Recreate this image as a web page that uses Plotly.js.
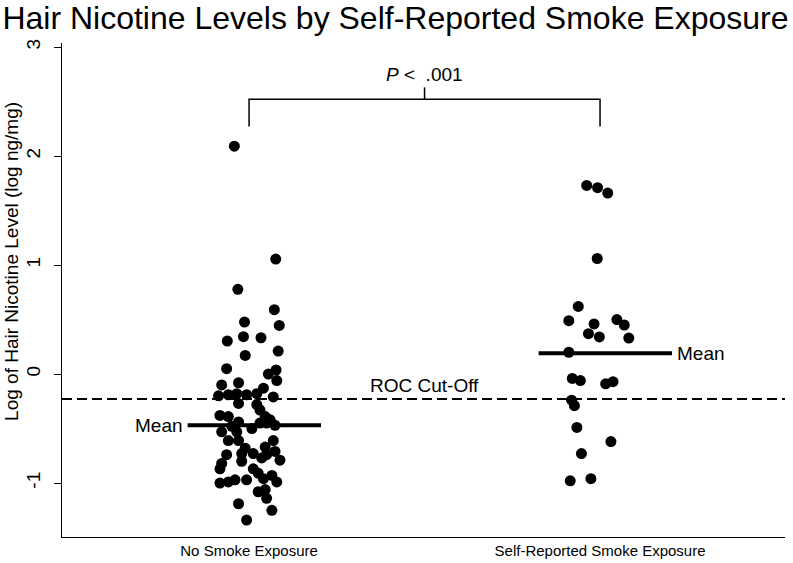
<!DOCTYPE html>
<html>
<head>
<meta charset="utf-8">
<script src="https://cdn.plot.ly/plotly-3.0.1.min.js"></script>
<style>html,body{margin:0;padding:0;background:#fff;}#chart{width:793px;height:563px;}</style>
</head>
<body>
<div id="chart"></div>
<script>
// ---- Data ----
const categories = ["No Smoke Exposure", "Self-Reported Smoke Exposure"];
const categoryPos = [1, 2];

// Log hair nicotine, no smoke exposure group
const noSmokeY = [2.09, 1.055, 0.777, 0.59, 0.477, 0.446, 0.303, 0.343, 0.333, 0.211, 0.171, 0.049, 0.037,
  0, -0.06, -0.10, -0.08, -0.13, -0.20, -0.19, -0.18, -0.19, -0.18, -0.21, -0.27, -0.28, -0.33, -0.39, -0.38, -0.39, -0.42,
  -0.53, -0.48, -0.44, -0.53, -0.50, -0.45, -0.45, -0.47, -0.61, -0.61, -0.68, -0.61, -0.67,
  -0.74, -0.73, -0.73, -0.74, -0.71, -0.82, -0.87, -0.80, -0.77, -0.79, -0.87, -0.91,
  -1.00, -0.99, -0.97, -0.97, -0.96, -0.93, -0.99, -1.08, -1.06, -1.14, -1.19, -1.25, -1.34];
const noSmokeJitter = [-0.042, 0.076, -0.032, 0.072, -0.013, 0.086, -0.062, -0.016, 0.034, 0.083, -0.011, -0.064, 0.077,
  0.055, 0.079, -0.078, -0.030, 0.041, -0.087, -0.059, -0.035, -0.007, 0.022, 0.069, -0.030, 0.022, 0.031, 0.046, -0.083, -0.059, 0.060,
  -0.078, -0.049, -0.030, -0.035, 0.008, 0.031, 0.050, 0.074, -0.059, -0.030, -0.011, 0.069, 0.046,
  -0.064, -0.021, 0.012, 0.050, 0.074, -0.078, -0.083, -0.021, 0.036, 0.088, 0.012, 0.026,
  -0.083, -0.059, -0.040, -0.007, 0.041, 0.065, 0.079, 0.026, 0.046, 0.050, -0.030, 0.065, -0.007];

// Self-reported smoke exposure group
const smokeY = [1.73, 1.71, 1.66, 1.06, 0.62, 0.49, 0.46, 0.50, 0.45, 0.37, 0.34, 0.33, 0.20,
  -0.04, -0.06, -0.09, -0.07, -0.24, -0.29, -0.49, -0.62, -0.73, -0.98, -0.96];
const smokeJitter = [-0.038, -0.007, 0.022, -0.008, -0.062, -0.089, -0.017, 0.048, 0.069, -0.033, -0.002, 0.082, -0.089,
  -0.079, -0.056, 0.016, 0.037, -0.081, -0.073, -0.066, 0.031, -0.053, -0.085, -0.026];

const groupMeans = [-0.47, 0.19];
const meanSpan = [-0.175, 0.205];
const rocCutoff = -0.23;
const xRange = [0.467, 2.527];
const yRange = [-1.495, 3.037];
const yTicks = [-1, 0, 1, 2, 3];
const bracketLevels = {low: 2.27, mid: 2.52, top: 2.63, label: 2.745};
const pText = "<i>P</i> &lt;&nbsp;&nbsp;.001";
const yTitle = 'Log of Hair Nicotine Level (log ng/mg)';

// ---- Traces ----
const traces = [];
traces.push({
  type: 'scatter', mode: 'markers',
  x: noSmokeY.map((v, i) => categoryPos[0] + noSmokeJitter[i]), y: noSmokeY,
  marker: {color: '#000', size: 11, line: {width: 0}}, hoverinfo: 'skip', showlegend: false
});
traces.push({
  type: 'scatter', mode: 'markers',
  x: smokeY.map((v, i) => categoryPos[1] + smokeJitter[i]), y: smokeY,
  marker: {color: '#000', size: 11, line: {width: 0}}, hoverinfo: 'skip', showlegend: false
});
groupMeans.forEach((m, i) => {
  traces.push({
    type: 'scatter', mode: 'lines',
    x: [categoryPos[i] + meanSpan[0], categoryPos[i] + meanSpan[1]], y: [m, m],
    line: {color: '#000', width: 4}, hoverinfo: 'skip', showlegend: false
  });
});
traces.push({
  type: 'scatter', mode: 'lines',
  x: xRange, y: [rocCutoff, rocCutoff],
  line: {color: '#000', width: 2, dash: '10px,5px'}, hoverinfo: 'skip', showlegend: false
});
const midX = (categoryPos[0] + categoryPos[1]) / 2;
traces.push({
  type: 'scatter', mode: 'lines',
  x: [categoryPos[0], categoryPos[0], categoryPos[1], categoryPos[1]],
  y: [bracketLevels.low, bracketLevels.mid, bracketLevels.mid, bracketLevels.low],
  line: {color: '#000', width: 1.5}, hoverinfo: 'skip', showlegend: false
});
traces.push({
  type: 'scatter', mode: 'lines',
  x: [midX, midX], y: [bracketLevels.mid, bracketLevels.top],
  line: {color: '#000', width: 1.5}, hoverinfo: 'skip', showlegend: false
});

const font = {family: 'Liberation Sans, Arial, sans-serif', color: '#000'};
const f = s => Object.assign({}, font, {size: s});

const layout = {
  width: 793, height: 563,
  paper_bgcolor: '#fff', plot_bgcolor: '#fff',
  margin: {l: 62, r: 8, t: 43, b: 26},
  showlegend: false,
  title: {
    text: 'Hair Nicotine Levels by Self-Reported Smoke Exposure',
    font: f(32),
    x: 0.003, xanchor: 'left', xref: 'container',
    y: 0.968, yanchor: 'middle', yref: 'container'
  },
  xaxis: {
    range: xRange, tickmode: 'array', tickvals: categoryPos, ticktext: categories,
    showgrid: false, zeroline: false, showline: true, linecolor: '#000', linewidth: 1,
    ticks: '', tickfont: f(15), fixedrange: true
  },
  yaxis: {
    range: yRange, tickmode: 'array', tickvals: yTicks, ticktext: yTicks.map(String),
    showgrid: false, zeroline: false, showline: true, linecolor: '#000', linewidth: 1,
    ticks: 'outside', ticklen: 7, tickcolor: '#000', tickangle: -90, ticklabelstandoff: 6,
    tickfont: f(19), fixedrange: true
  },
  annotations: [
    {x: -0.069, y: 1.03, xref: 'paper', yref: 'y', text: yTitle, textangle: -90, showarrow: false,
     font: f(19), xanchor: 'center', yanchor: 'middle'},
    {x: midX, y: bracketLevels.label, xref: 'x', yref: 'y', text: pText, showarrow: false,
     font: f(19), xanchor: 'center', yanchor: 'middle'},
    {x: midX, y: rocCutoff, xref: 'x', yref: 'y', text: 'ROC Cut-Off', showarrow: false,
     font: f(19), xanchor: 'center', yanchor: 'bottom', yshift: 1},
    {x: categoryPos[0] + meanSpan[0], y: groupMeans[0], xref: 'x', yref: 'y', text: 'Mean', showarrow: false,
     font: f(19), xanchor: 'right', yanchor: 'middle', xshift: -3},
    {x: categoryPos[1] + meanSpan[1], y: groupMeans[1], xref: 'x', yref: 'y', text: 'Mean', showarrow: false,
     font: f(19), xanchor: 'left', yanchor: 'middle', xshift: 3}
  ]
};

Plotly.newPlot('chart', traces, layout, {displayModeBar: false, staticPlot: true});
</script>
</body>
</html>
